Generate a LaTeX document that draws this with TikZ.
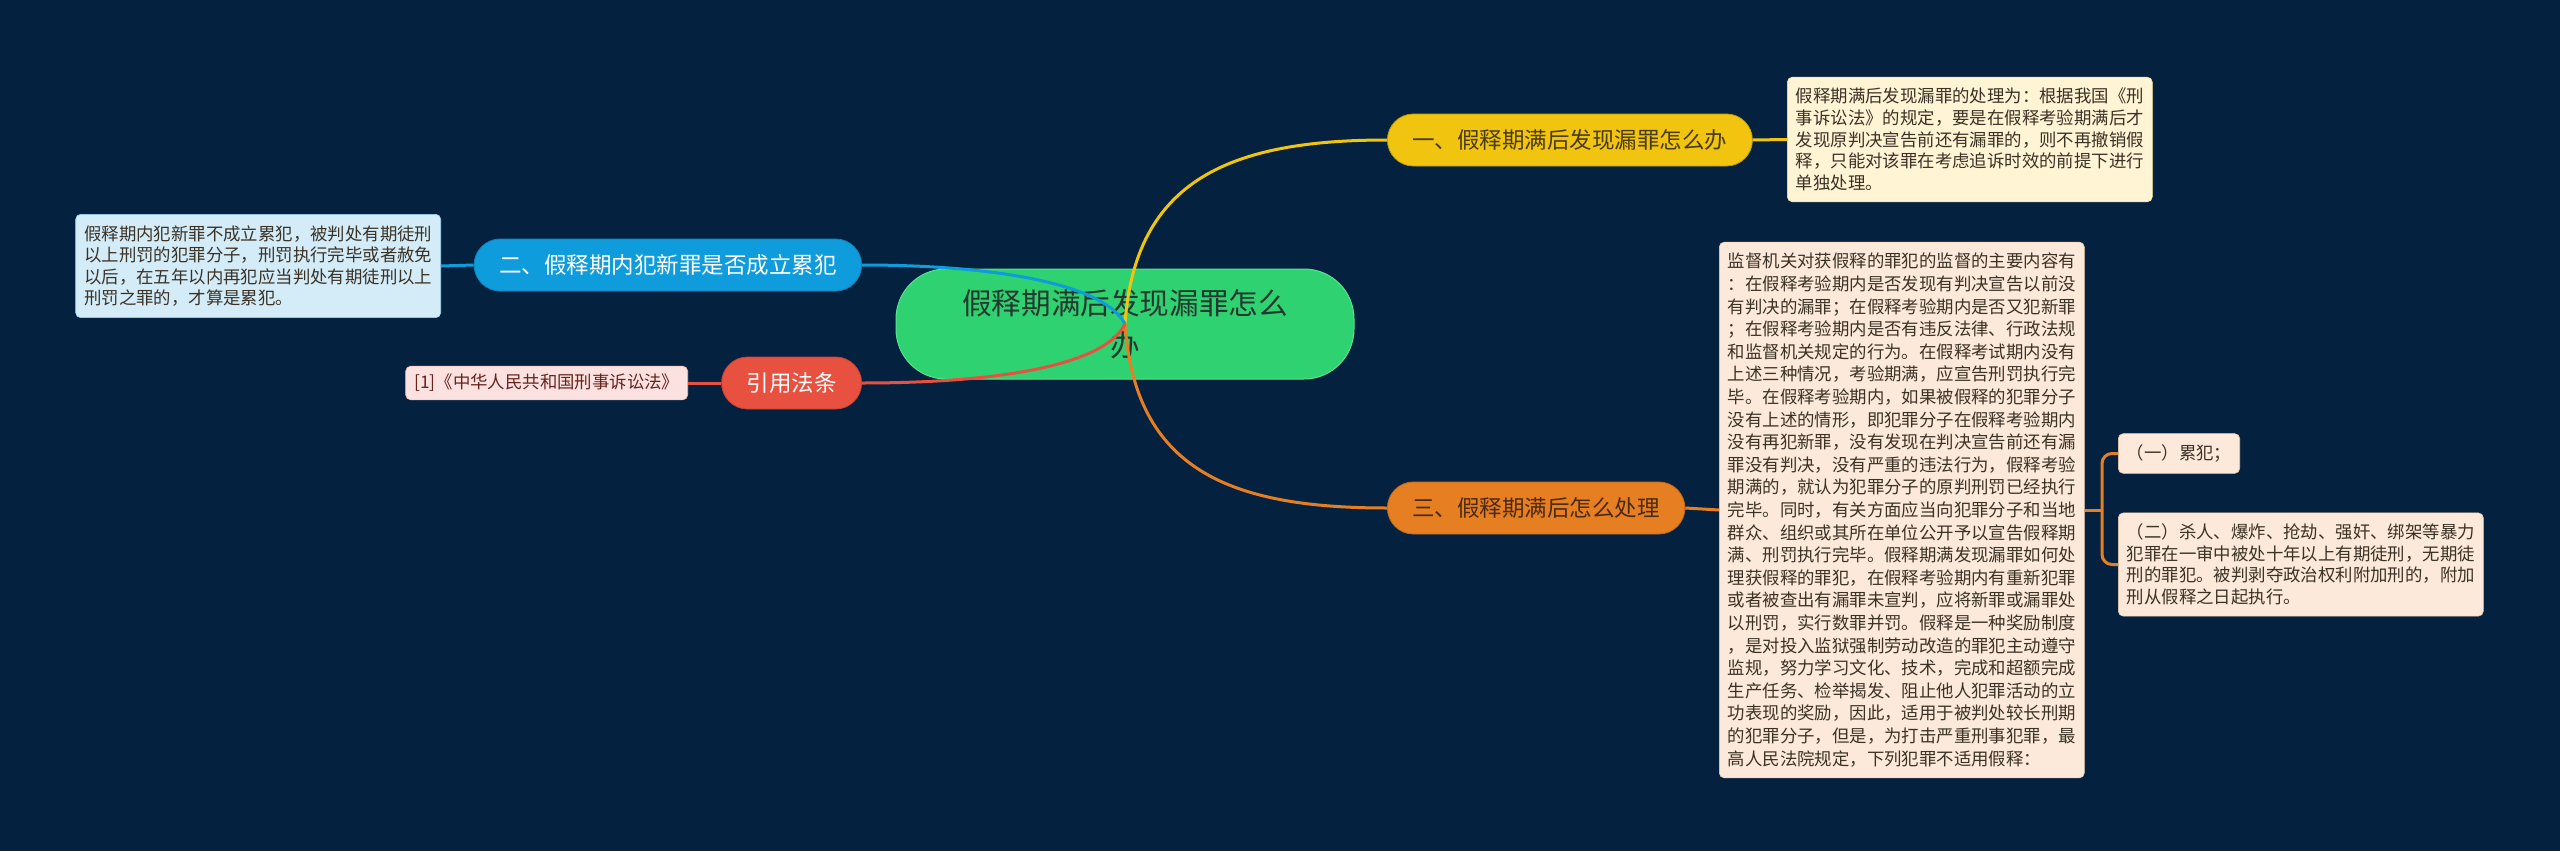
\documentclass[tikz,border=0pt]{standalone}
\usepackage{fontspec}
\setmainfont{Noto Sans CJK SC}
\definecolor{canvas}{HTML}{042240}
\definecolor{rootFill}{HTML}{2ED271}
\definecolor{rootEdge}{HTML}{5BE08F}
\definecolor{rootText}{HTML}{25382D}
\definecolor{yellowBr}{HTML}{F1C40F}
\definecolor{yellowText}{HTML}{4A3A10}
\definecolor{yellowNote}{HTML}{FFF4D4}
\definecolor{blueBr}{HTML}{0E9CDC}
\definecolor{blueNote}{HTML}{D3ECF8}
\definecolor{redBr}{HTML}{E8503F}
\definecolor{redNote}{HTML}{FBE2E0}
\definecolor{orangeBr}{HTML}{E67E22}
\definecolor{orangeNote}{HTML}{FCE9DA}
\definecolor{orangeText}{HTML}{4A2A12}
\definecolor{noteInk}{HTML}{3B3226}
\tikzset{
    topic/.style={draw=rootEdge, fill=rootFill, line width=1pt, rounded corners=50pt,
                  minimum width=458pt, minimum height=110pt, align=center,
                  text=rootText, font=\fontsize{29.6}{42}\selectfont},
    branch/.style={rounded corners=26pt, minimum height=52pt, inner xsep=25pt,
                   inner ysep=0pt, line width=0.8pt, font=\fontsize{22.5}{27}\selectfont},
    note/.style={rounded corners=5pt, align=left, inner xsep=8.5pt, inner ysep=11pt,
                 line width=0.6pt, text=noteInk, font=\fontsize{17.4}{21.6}\selectfont},
    link/.style={line width=3pt},
}

\begin{document}
\begin{tikzpicture}[x=1pt, y=-1pt]
\useasboundingbox (0,0) rectangle (2560,851);
\fill[canvas] (0,0) rectangle (2560,851);

% ---------------------------------------------------------------------------
% Central topic and first level
% ---------------------------------------------------------------------------
\node[topic] (root) at (1125,324) {假释期满后发现漏罪怎么\\办};

\node[branch, fill=yellowBr, draw=yellowBr!80!black, text=yellowText, anchor=west]
    (branchA) at (1387,140) {一、假释期满后发现漏罪怎么办};
\node[branch, fill=blueBr, draw=blueBr!85!black, text=white, anchor=east]
    (branchB) at (862,265) {二、假释期内犯新罪是否成立累犯};
\node[branch, fill=redBr, draw=redBr!85!black, text=white, anchor=east]
    (cite) at (862,383) {引用法条};
\node[branch, fill=orangeBr, draw=orangeBr!85!black, text=orangeText, anchor=west]
    (branchC) at (1387,508) {三、假释期满后怎么处理};

% ---------------------------------------------------------------------------
% Notes
% ---------------------------------------------------------------------------
\node[note, fill=yellowNote, draw=yellowBr!40, anchor=west] (noteA) at (1787,139.5)
    {假释期满后发现漏罪的处理为：根据我国《刑\\
     事诉讼法》的规定，要是在假释考验期满后才\\
     发现原判决宣告前还有漏罪的，则不再撤销假\\
     释，只能对该罪在考虑追诉时效的前提下进行\\
     单独处理。};

\node[note, fill=blueNote, draw=blueBr!40, anchor=east] (noteB) at (441,266)
    {假释期内犯新罪不成立累犯，被判处有期徒刑\\
     以上刑罚的犯罪分子，刑罚执行完毕或者赦免\\
     以后，在五年以内再犯应当判处有期徒刑以上\\
     刑罚之罪的，才算是累犯。};

\node[note, fill=redNote, draw=redBr!40, text=redBr!45!black, inner ysep=8pt, anchor=east]
    (citeNote) at (688,383) {[1]《中华人民共和国刑事诉讼法》};

\node[note, fill=orangeNote, draw=orangeBr!40, anchor=west,
      font=\fontsize{17.4}{22.6}\selectfont] (noteC) at (1719,510)
    {监督机关对获假释的罪犯的监督的主要内容有\\
     ：在假释考验期内是否发现有判决宣告以前没\\
     有判决的漏罪；在假释考验期内是否又犯新罪\\
     ；在假释考验期内是否有违反法律、行政法规\\
     和监督机关规定的行为。在假释考试期内没有\\
     上述三种情况，考验期满，应宣告刑罚执行完\\
     毕。在假释考验期内，如果被假释的犯罪分子\\
     没有上述的情形，即犯罪分子在假释考验期内\\
     没有再犯新罪，没有发现在判决宣告前还有漏\\
     罪没有判决，没有严重的违法行为，假释考验\\
     期满的，就认为犯罪分子的原判刑罚已经执行\\
     完毕。同时，有关方面应当向犯罪分子和当地\\
     群众、组织或其所在单位公开予以宣告假释期\\
     满、刑罚执行完毕。假释期满发现漏罪如何处\\
     理获假释的罪犯，在假释考验期内有重新犯罪\\
     或者被查出有漏罪未宣判，应将新罪或漏罪处\\
     以刑罚，实行数罪并罚。假释是一种奖励制度\\
     ，是对投入监狱强制劳动改造的罪犯主动遵守\\
     监规，努力学习文化、技术，完成和超额完成\\
     生产任务、检举揭发、阻止他人犯罪活动的立\\
     功表现的奖励，因此，适用于被判处较长刑期\\
     的犯罪分子，但是，为打击严重刑事犯罪，最\\
     高人民法院规定，下列犯罪不适用假释：};

\node[note, fill=orangeNote, draw=orangeBr!40, anchor=west] (itemA) at (2118,453.5)
    {（一）累犯；};
\node[note, fill=orangeNote, draw=orangeBr!40, anchor=west] (itemB) at (2118,564.5)
    {（二）杀人、爆炸、抢劫、强奸、绑架等暴力\\
     犯罪在一审中被处十年以上有期徒刑，无期徒\\
     刑的罪犯。被判剥夺政治权利附加刑的，附加\\
     刑从假释之日起执行。};

% ---------------------------------------------------------------------------
% Connectors
% ---------------------------------------------------------------------------
\draw[link, yellowBr] (root.center) .. controls (1135,180) and (1230,140) .. (branchA.west);
\draw[link, orangeBr] (root.center) .. controls (1135,470) and (1230,508) .. (branchC.west);
\draw[link, blueBr] (root.center) .. controls (1105,285) and (1000,265) .. (branchB.east);
\draw[link, redBr] (root.center) .. controls (1105,365) and (1000,383) .. (cite.east);

\draw[link, yellowBr] (branchA.east) -- (noteA.west);
\draw[link, blueBr] (branchB.west) -- (noteB.east);
\draw[link, redBr] (cite.west) -- (citeNote.east);
\draw[link, orangeBr] (branchC.east) -- (noteC.west);

\coordinate (fork) at (2102,510);
\draw[link, orangeBr] (noteC.east) -- (fork);
\draw[link, orangeBr, rounded corners=10pt] (fork) |- (itemA.west);
\draw[link, orangeBr, rounded corners=10pt] (fork) |- (itemB.west);

\end{tikzpicture}
\end{document}
